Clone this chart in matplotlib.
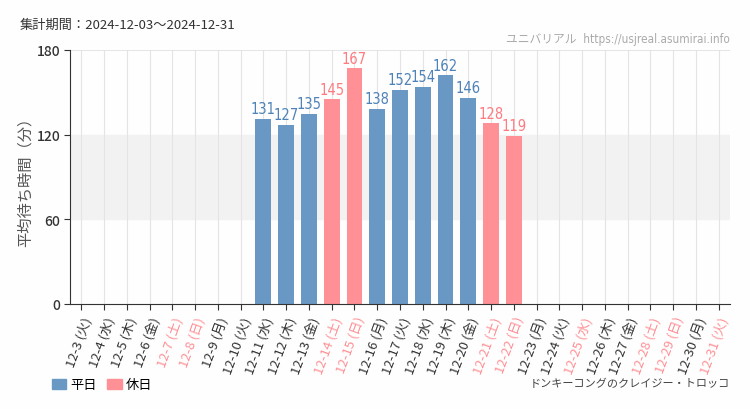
import matplotlib
matplotlib.use("Agg")
import matplotlib.pyplot as plt
from matplotlib.patches import Patch
import numpy as np

plt.rcParams['font.family'] = ['Noto Sans CJK JP', 'DejaVu Sans']

dates = ["12-3", "12-4", "12-5", "12-6", "12-7", "12-8", "12-9", "12-10", "12-11", "12-12",
         "12-13", "12-14", "12-15", "12-16", "12-17", "12-18", "12-19", "12-20", "12-21", "12-22",
         "12-23", "12-24", "12-25", "12-26", "12-27", "12-28", "12-29", "12-30", "12-31"]
weekdays = ["火", "水", "木", "金", "土", "日", "月", "火", "水", "木",
            "金", "土", "日", "月", "火", "水", "木", "金", "土", "日",
            "月", "火", "水", "木", "金", "土", "日", "月", "火"]
holiday = [0, 0, 0, 0, 1, 1, 0, 0, 0, 0,
           0, 1, 1, 0, 0, 0, 0, 0, 1, 1,
           0, 0, 1, 0, 0, 1, 1, 0, 1]
values = [None, None, None, None, None, None, None, None, 131, 127,
          135, 145, 167, 138, 152, 154, 162, 146, 128, 119,
          None, None, None, None, None, None, None, None, None]
yticks = [0, 60, 120, 180]

BLUE = '#6a98c5'
PINK = '#ff9096'
BLUE_T = '#4f82b8'
PINK_T = '#ff7b82'
BG = '#fdfefd'
NARROW = ['DejaVu Sans', 'Noto Sans CJK JP']

fig = plt.figure(figsize=(7.5, 4.1), dpi=100, facecolor=BG)
ax = fig.add_axes([70/750, 1-305/410, 660/750, 254/410])
ax.set_facecolor(BG)

n = len(dates)
x = np.arange(n)
ax.set_xlim(-0.5, n - 0.5)
ax.set_ylim(0, 180)

ax.axhspan(60, 120, color='#f2f2f2', zorder=0)
for xi in x:
    ax.axvline(xi, color='#e4e4e4', lw=0.8, zorder=0.5)
ax.axhline(180, color='#e0e0e0', lw=1.2, zorder=0.5)

for xi, v, h in zip(x, values, holiday):
    if v is None:
        continue
    c = PINK if h else BLUE
    ax.bar(xi, v, width=0.7, color=c, zorder=2)
    ax.text(xi, v + 2, str(v), ha='center', va='bottom', fontsize=10.5,
            color=PINK_T if h else BLUE_T,
            family=NARROW, fontstretch='condensed', fontweight='medium')

ax.set_yticks(yticks)
ax.set_yticklabels([str(t) for t in yticks], fontsize=10, color='#333333', fontweight='medium')
ax.set_xticks(x)
labels = [f"{d} ({w})" for d, w in zip(dates, weekdays)]
ax.set_xticklabels(labels, rotation=70, ha='right', rotation_mode='anchor', fontsize=9.5)
for lbl, h in zip(ax.get_xticklabels(), holiday):
    lbl.set_color(PINK if h else '#333333')

for s in ['top', 'right']:
    ax.spines[s].set_visible(False)
ax.spines['left'].set_color('#333333')
ax.spines['bottom'].set_color('#333333')
ax.tick_params(axis='both', length=4, color='#333333', direction='out')
ax.tick_params(axis='y', pad=3)

ax.set_ylabel('平均待ち時間（分）', fontsize=11, color='#555555')
ax.yaxis.set_label_coords(-36/660, 0.5)

fig.text(20/750, 1-25/410, '集計期間：2024-12-03～2024-12-31', fontsize=9.5, color='#333333',
         ha='left', va='center')
fig.text(730/750, 1-40/410, 'ユニバリアル  https://usjreal.asumirai.info', fontsize=8.5,
         color='#aaaaaa', ha='right', va='center', family=NARROW, fontstretch='condensed')
fig.text(730/750, 1-384/410, 'ドンキーコングのクレイジー・トロッコ', fontsize=8,
         color='#444444', ha='right', va='center')

handles = [Patch(color=BLUE, label='平日'), Patch(color=PINK, label='休日')]
fig.legend(handles=handles, loc='center left', bbox_to_anchor=(40/750, 1-386/410), ncol=2,
           frameon=False, fontsize=9.5, handlelength=1.1, handleheight=0.75, columnspacing=0.8,
           handletextpad=0.3)

fig.savefig('out.png', dpi=100, facecolor=BG)
